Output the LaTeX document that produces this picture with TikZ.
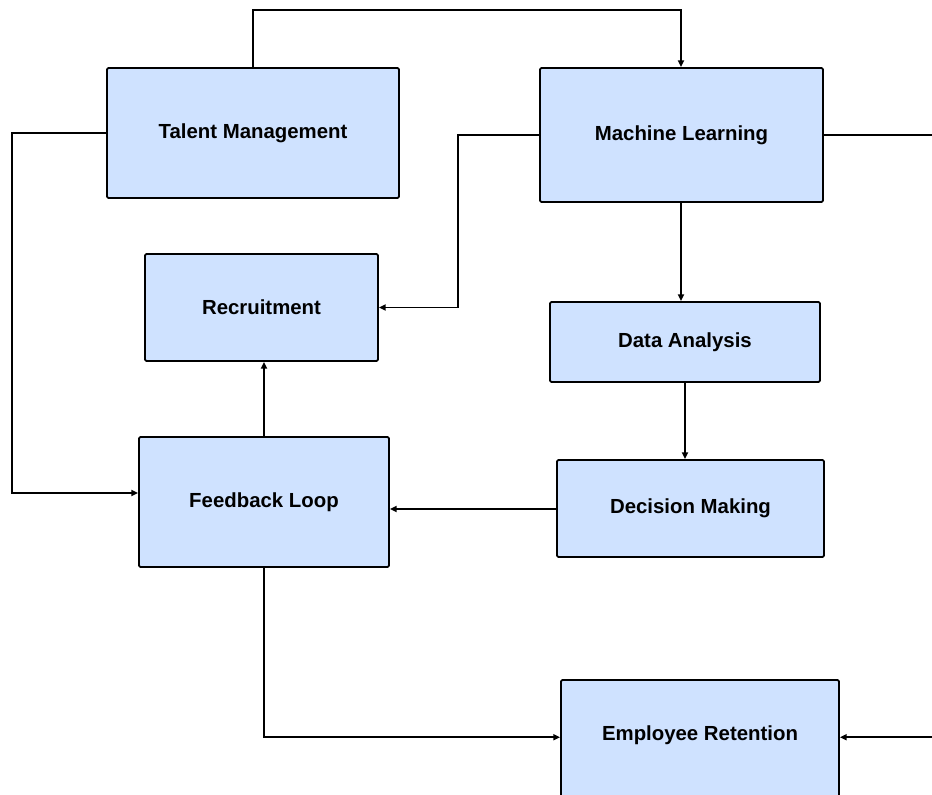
\documentclass[tikz,border=0pt]{standalone}
\usepackage{fontspec}
\setmainfont{Liberation Sans}
\usetikzlibrary{arrows.meta}
\definecolor{boxblue}{RGB}{207,226,255}
\tikzset{
	box/.style={draw=black, fill=boxblue, line width=1.3pt, rounded corners=1pt,
		font=\fontsize{14.5}{17}\selectfont\bfseries, align=center, inner sep=0pt},
	link/.style={line width=1.4pt, -{Triangle[length=0.17cm, width=0.15cm]}},
	plain/.style={line width=1.4pt}
}

\begin{document}
\begin{tikzpicture}
			%%%%% START %%%%%
			
			\clip (0, 0) rectangle (23.3, -19.85);
			\coordinate (rightedge) at (23.3, 0);
			\coordinate (topbend) at (12, -0.25);
			\coordinate (leftbend) at (0.3, -12.325);
			
			\node[box, minimum width=7.3cm, minimum height=3.25cm] (tm) at (6.325, -3.325) {Talent Management};
			\node[box, minimum width=7.075cm, minimum height=3.35cm] (ml) at (17.0375, -3.375) {Machine Learning};
			
			\node[box, minimum width=5.825cm, minimum height=2.675cm] (rec) at (6.5375, -7.6875) {Recruitment};
			\node[box, minimum width=6.75cm, minimum height=2cm] (da) at (17.125, -8.55) {Data Analysis};
			
			\node[box, minimum width=6.25cm, minimum height=3.25cm] (fl) at (6.6, -12.55) {Feedback Loop};
			\node[box, minimum width=6.675cm, minimum height=2.425cm] (dm) at (17.2625, -12.7125) {Decision Making};
			
			\node[box, minimum width=6.95cm, minimum height=4cm, anchor=north, text height=0.35cm, text depth=1.3cm] (er) at (17.5, -16.975) {Employee Retention};
			
			\draw[link] (tm.north) |- (topbend) -| ([xshift=-0.0125cm]ml.north);
			\draw[link] (tm.west) -| (leftbend) -- (leftbend -| fl.west);
			\draw[link] (ml.west) -- ++(-2.025, 0) |- (rec.east);
			\draw[plain] (ml.east) -- (ml.east -| rightedge);
			
			\draw[link] ([xshift=-0.0125cm]ml.south) -- ([xshift=-0.0125cm]ml.south |- da.north);
			\draw[link] (da.south) -- (da.south |- dm.north);
			\draw[link] ([yshift=-0.0125cm]dm.west) -- ([yshift=-0.0125cm]dm.west -| fl.east);
			\draw[link] (fl.north) -- (fl.north |- rec.south);
			
			\draw[link] (fl.south) |- (er.mid west);
			\draw[link] (rightedge |- er.mid east) -- (er.mid east);
			
			%%%%% END %%%%%
\end{tikzpicture}
\end{document}
